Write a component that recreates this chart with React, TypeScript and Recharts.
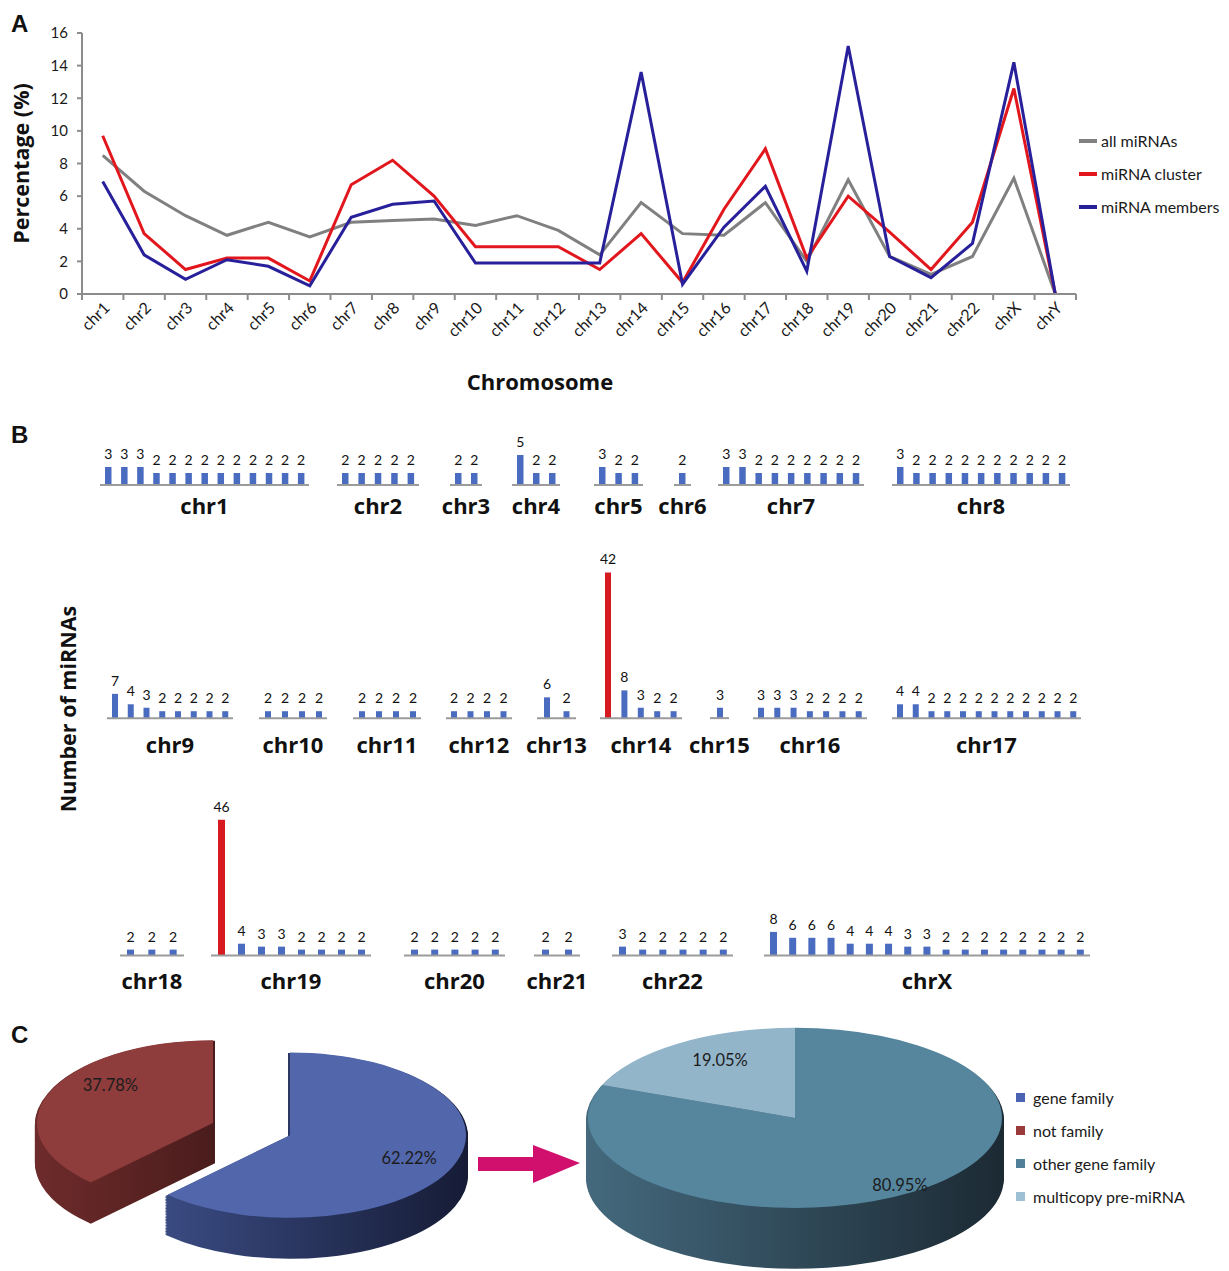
import React from 'react';
import {
  LineChart,
  Line,
  XAxis,
  YAxis,
  Label,
  BarChart,
  Bar,
  Cell,
  LabelList,
  PieChart,
  Pie,
} from 'recharts';

// ---------- panel A: share of miRNAs per chromosome (%)
const chromosomes = [
  'chr1', 'chr2', 'chr3', 'chr4', 'chr5', 'chr6', 'chr7', 'chr8', 'chr9', 'chr10', 'chr11', 'chr12',
  'chr13', 'chr14', 'chr15', 'chr16', 'chr17', 'chr18', 'chr19', 'chr20', 'chr21', 'chr22', 'chrX', 'chrY',
];
const allMiRNAs = [8.5, 6.3, 4.8, 3.6, 4.4, 3.5, 4.4, 4.5, 4.6, 4.2, 4.8, 3.9, 2.4, 5.6, 3.7, 3.6, 5.6, 2.0, 7.0, 2.3, 1.2, 2.3, 7.1, 0];
const miRNACluster = [9.7, 3.7, 1.5, 2.2, 2.2, 0.8, 6.7, 8.2, 6.0, 2.9, 2.9, 2.9, 1.5, 3.7, 0.7, 5.2, 8.9, 2.2, 6.0, 3.8, 1.5, 4.4, 12.6, 0];
const miRNAMembers = [6.9, 2.4, 0.9, 2.1, 1.7, 0.5, 4.7, 5.5, 5.7, 1.9, 1.9, 1.9, 1.9, 13.6, 0.6, 4.1, 6.6, 1.4, 15.2, 2.3, 1.0, 3.1, 14.2, 0];
const percentTicks = [0, 2, 4, 6, 8, 10, 12, 14, 16];

// ---------- panel B: miRNAs per cluster, by chromosome
const chr1Counts = [3, 3, 3, 2, 2, 2, 2, 2, 2, 2, 2, 2, 2];
const chr2Counts = [2, 2, 2, 2, 2];
const chr3Counts = [2, 2];
const chr4Counts = [5, 2, 2];
const chr5Counts = [3, 2, 2];
const chr6Counts = [2];
const chr7Counts = [3, 3, 2, 2, 2, 2, 2, 2, 2];
const chr8Counts = [3, 2, 2, 2, 2, 2, 2, 2, 2, 2, 2];
const chr9Counts = [7, 4, 3, 2, 2, 2, 2, 2];
const chr10Counts = [2, 2, 2, 2];
const chr11Counts = [2, 2, 2, 2];
const chr12Counts = [2, 2, 2, 2];
const chr13Counts = [6, 2];
const chr14Counts = [42, 8, 3, 2, 2];
const chr15Counts = [3];
const chr16Counts = [3, 3, 3, 2, 2, 2, 2];
const chr17Counts = [4, 4, 2, 2, 2, 2, 2, 2, 2, 2, 2, 2];
const chr18Counts = [2, 2, 2];
const chr19Counts = [46, 4, 3, 3, 2, 2, 2, 2];
const chr20Counts = [2, 2, 2, 2, 2];
const chr21Counts = [2, 2];
const chr22Counts = [3, 2, 2, 2, 2, 2];
const chrXCounts = [8, 6, 6, 6, 4, 4, 4, 3, 3, 2, 2, 2, 2, 2, 2, 2, 2];
const highlightedBars: [string, number][] = [['chr14', 0], ['chr19', 0]];

// ---------- panel C: family composition (%)
const familyLabels = ['gene family', 'not family'];
const familyPct = [62.22, 37.78];
const subLabels = ['other gene family', 'multicopy pre-miRNA'];
const subPct = [80.95, 19.05];

const SANS = 'Lato, "Open Sans", sans-serif';
const BOLD = '"Open Sans", "Noto Sans", sans-serif';
const AXIS_GRAY = '#8c8c8c';

const seriesKeys = ['all', 'cluster', 'members'];
const seriesNames = ['all miRNAs', 'miRNA cluster', 'miRNA members'];
const seriesColors = ['#808080', '#e2161d', '#28209b'];

const lineData = chromosomes.map((chr, i) => ({
  chr,
  all: allMiRNAs[i],
  cluster: miRNACluster[i],
  members: miRNAMembers[i],
}));

const PLOT_LEFT = 82;
const PLOT_RIGHT = 1076;
const AXIS_Y = 294;
const BAND = (PLOT_RIGHT - PLOT_LEFT) / chromosomes.length;

function ChrTick(props: any) {
  const { x, payload, index } = props;
  const tx = x + 8;
  const ty = AXIS_Y + 15;
  const last = index === chromosomes.length - 1;
  return (
    <g>
      <line x1={x - BAND / 2} x2={x - BAND / 2} y1={AXIS_Y} y2={AXIS_Y + 6} stroke={AXIS_GRAY} strokeWidth={2} />
      {last && <line x1={x + BAND / 2} x2={x + BAND / 2} y1={AXIS_Y} y2={AXIS_Y + 6} stroke={AXIS_GRAY} strokeWidth={2} />}
      <text x={tx} y={ty} textAnchor="end" transform={`rotate(-45, ${tx}, ${ty})`} fontSize={16} fontFamily={SANS} fill="#1a1a1a">
        {payload.value}
      </text>
    </g>
  );
}

const rowSpecs = [
  {
    baseline: 485, ppu: 6.0, max: 8, barSize: 6.5, labelOffset: 15,
    groups: [
      { name: 'chr1', counts: chr1Counts, x0: 100, x1: 309 },
      { name: 'chr2', counts: chr2Counts, x0: 337, x1: 419 },
      { name: 'chr3', counts: chr3Counts, x0: 450, x1: 482 },
      { name: 'chr4', counts: chr4Counts, x0: 512, x1: 560 },
      { name: 'chr5', counts: chr5Counts, x0: 594, x1: 643 },
      { name: 'chr6', counts: chr6Counts, x0: 674, x1: 691 },
      { name: 'chr7', counts: chr7Counts, x0: 718, x1: 864 },
      { name: 'chr8', counts: chr8Counts, x0: 892, x1: 1070 },
    ],
  },
  {
    baseline: 718, ppu: 3.47, max: 45, barSize: 6, labelOffset: 9,
    groups: [
      { name: 'chr9', counts: chr9Counts, x0: 107, x1: 233 },
      { name: 'chr10', counts: chr10Counts, x0: 259, x1: 327 },
      { name: 'chr11', counts: chr11Counts, x0: 353, x1: 421 },
      { name: 'chr12', counts: chr12Counts, x0: 446, x1: 512 },
      { name: 'chr13', counts: chr13Counts, x0: 537, x1: 576 },
      { name: 'chr14', counts: chr14Counts, x0: 600, x1: 682 },
      { name: 'chr15', counts: chr15Counts, x0: 710, x1: 729 },
      { name: 'chr16', counts: chr16Counts, x0: 753, x1: 867 },
      { name: 'chr17', counts: chr17Counts, x0: 892, x1: 1081 },
    ],
  },
  {
    baseline: 955, ppu: 2.95, max: 50, barSize: 7, labelOffset: 11,
    groups: [
      { name: 'chr18', counts: chr18Counts, x0: 120, x1: 184 },
      { name: 'chr19', counts: chr19Counts, x0: 211, x1: 371 },
      { name: 'chr20', counts: chr20Counts, x0: 404, x1: 505 },
      { name: 'chr21', counts: chr21Counts, x0: 534, x1: 580 },
      { name: 'chr22', counts: chr22Counts, x0: 612, x1: 733 },
      { name: 'chrX', counts: chrXCounts, x0: 764, x1: 1090 },
    ],
  },
];

function ChrBars({ name, counts, x0, x1, row }: any) {
  const pad = 40;
  const topPad = 28;
  const axisH = 44;
  const plotH = row.max * row.ppu;
  const data = counts.map((v: number, i: number) => ({ i, v }));
  const hi = highlightedBars.filter(([n]) => n === name).map(([, i]) => i);
  return (
    <div style={{ position: 'absolute', left: x0 - pad, top: row.baseline - plotH - topPad }}>
      <BarChart
        width={x1 - x0 + 2 * pad}
        height={topPad + plotH + axisH}
        data={data}
        margin={{ top: topPad, right: pad, bottom: 0, left: pad }}
        barCategoryGap={0}
      >
        <XAxis dataKey="i" height={axisH} tick={false} tickLine={false} axisLine={{ stroke: '#9b9b9b', strokeWidth: 2 }}>
          <Label
            value={name}
            position="insideBottom"
            offset={row.labelOffset}
            style={{ fontFamily: BOLD, fontWeight: 700, fontSize: 22, fill: '#111' }}
          />
        </XAxis>
        <YAxis hide domain={[0, row.max]} />
        <Bar dataKey="v" barSize={row.barSize} isAnimationActive={false}>
          {data.map((_: any, i: number) => (
            <Cell key={i} fill={hi.includes(i) ? '#d71920' : '#4a6cc0'} />
          ))}
          <LabelList dataKey="v" position="top" offset={8} fill="#111" fontSize={14} fontFamily={SANS} />
        </Bar>
      </BarChart>
    </div>
  );
}

const LAYERS = 26;

function Pie3D({ left, top, width, height, s, r, depth, data, tops, parts, gradients, labelAdj }: any) {
  const pies: React.ReactNode[] = [];
  parts.forEach((part: any, p: number) => {
    for (let k = LAYERS; k >= 1; k--) {
      const off = (depth * k) / LAYERS;
      pies.push(
        <Pie
          key={`side-${p}-${k}`}
          data={data}
          dataKey="value"
          cx={part.cx}
          cy={part.cy + off}
          outerRadius={r}
          startAngle={90}
          endAngle={-270}
          isAnimationActive={false}
          label={false}
          labelLine={false}
        >
          {data.map((_: any, i: number) => {
            const on = part.show.includes(i);
            const paint = on ? `url(#${part.side})` : 'none';
            return <Cell key={i} fill={paint} stroke={paint} strokeWidth={4} />;
          })}
        </Pie>
      );
    }
    const renderLabel = (props: any) => {
      const { index, midAngle } = props;
      if (!part.show.includes(index)) return null;
      const adj = labelAdj[index];
      const a = ((midAngle + adj.shift) * Math.PI) / 180;
      const rr = r * adj.frac;
      const x = part.cx + rr * Math.cos(a);
      const y = part.cy - rr * Math.sin(a);
      return (
        <text
          key={`lbl-${index}`}
          transform={`translate(${x},${y}) scale(1,${1 / s})`}
          textAnchor="middle"
          dominantBaseline="central"
          fontSize={16.5}
          fontFamily={SANS}
          fill="#1c1c1c"
        >
          {`${data[index].value.toFixed(2)}%`}
        </text>
      );
    };
    pies.push(
      <Pie
        key={`top-${p}`}
        data={data}
        dataKey="value"
        cx={part.cx}
        cy={part.cy}
        outerRadius={r}
        startAngle={90}
        endAngle={-270}
        isAnimationActive={false}
        label={renderLabel}
        labelLine={false}
      >
        {data.map((_: any, i: number) => (
          <Cell key={i} fill={part.show.includes(i) ? tops[i] : 'none'} stroke="none" />
        ))}
      </Pie>
    );
  });
  return (
    <div style={{ position: 'absolute', left, top, width, height: height * s }}>
      <div style={{ transform: `scaleY(${s})`, transformOrigin: '0 0' }}>
        <PieChart width={width} height={height} margin={{ top: 0, right: 0, bottom: 0, left: 0 }}>
          <defs>{gradients}</defs>
          {pies}
        </PieChart>
      </div>
    </div>
  );
}

const familyData = familyLabels.map((name, i) => ({ name, value: familyPct[i] }));
const subData = subLabels.map((name, i) => ({ name, value: subPct[i] }));
const legendC = [
  { label: familyLabels[0], color: '#4a63b3' },
  { label: familyLabels[1], color: '#9b3a3a' },
  { label: subLabels[0], color: '#4f7f99' },
  { label: subLabels[1], color: '#9ec0d5' },
];

const panelLetter = (ch: string, top: number) => (
  <div
    style={{
      position: 'absolute', left: 11, top, fontFamily: '"Liberation Sans", Arial, sans-serif',
      fontWeight: 700, fontSize: 24, lineHeight: '24px', color: '#111',
    }}
  >
    {ch}
  </div>
);

export default function App() {
  return (
    <div style={{ position: 'absolute', left: 0, top: 0, width: 1229, height: 1271, background: '#fff', overflow: 'hidden', fontFamily: SANS }}>
      {panelLetter('A', 12)}
      {panelLetter('B', 423)}
      {panelLetter('C', 1023)}

      {/* panel A */}
      <div style={{ position: 'absolute', left: 0, top: 0 }}>
        <LineChart width={1229} height={400} data={lineData} margin={{ top: 33, right: 1229 - PLOT_RIGHT, bottom: 0, left: 0 }}>
          <XAxis
            dataKey="chr"
            interval={0}
            height={400 - AXIS_Y}
            padding={{ left: BAND / 2, right: BAND / 2 }}
            tickLine={false}
            axisLine={{ stroke: AXIS_GRAY, strokeWidth: 2 }}
            tick={<ChrTick />}
          >
            <Label
              value="Chromosome"
              position="insideBottom"
              offset={10}
              dx={-39}
              style={{ fontFamily: BOLD, fontWeight: 700, fontSize: 22, fill: '#111' }}
            />
          </XAxis>
          <YAxis
            width={PLOT_LEFT}
            domain={[0, 16]}
            ticks={percentTicks}
            interval={0}
            tickSize={5}
            tickMargin={9}
            axisLine={{ stroke: AXIS_GRAY, strokeWidth: 2 }}
            tickLine={{ stroke: AXIS_GRAY, strokeWidth: 2 }}
            tick={{ fontSize: 15, fill: '#1a1a1a', fontFamily: SANS }}
          >
            <Label
              value="Percentage (%)"
              angle={-90}
              position="insideLeft"
              offset={21}
              style={{ textAnchor: 'middle', fontFamily: BOLD, fontWeight: 700, fontSize: 21.5, fill: '#111' }}
            />
          </YAxis>
          {seriesKeys.map((k, i) => (
            <Line
              key={k}
              dataKey={k}
              name={seriesNames[i]}
              stroke={seriesColors[i]}
              strokeWidth={3}
              dot={false}
              isAnimationActive={false}
            />
          ))}
        </LineChart>
      </div>
      <div style={{ position: 'absolute', left: 1079, top: 124 }}>
        {seriesNames.map((n, i) => (
          <div key={n} style={{ display: 'flex', alignItems: 'center', height: 33 }}>
            <span style={{ width: 18, height: 4, background: seriesColors[i], marginRight: 4 }} />
            <span style={{ fontSize: 16, color: '#1a1a1a', whiteSpace: 'nowrap' }}>{n}</span>
          </div>
        ))}
      </div>

      {/* panel B */}
      <div
        style={{
          position: 'absolute', left: 68 - 150, top: 709 - 15, width: 300, height: 30, lineHeight: '30px',
          textAlign: 'center', transform: 'rotate(-90deg)', fontFamily: BOLD, fontWeight: 700, fontSize: 21.5, color: '#111',
        }}
      >
        Number of miRNAs
      </div>
      {rowSpecs.map((row, ri) =>
        row.groups.map((g) => <ChrBars key={`${ri}-${g.name}`} {...g} row={row} />)
      )}

      {/* panel C */}
      <Pie3D
        left={0}
        top={1020}
        width={480}
        height={520}
        s={0.47}
        r={176}
        depth={85}
        data={familyData}
        tops={['#5166ab', '#8e3c3c']}
        labelAdj={[{ shift: 0, frac: 0.73 }, { shift: -16, frac: 0.74 }]}
        parts={[
          { cx: 213, cy: 219, show: [1], side: 'redSide' },
          { cx: 290, cy: 245, show: [0], side: 'blueSide' },
        ]}
        gradients={[
          <linearGradient key="b" id="blueSide" gradientUnits="userSpaceOnUse" x1={114} y1={0} x2={466} y2={0}>
            <stop offset="0" stopColor="#40538f" />
            <stop offset="1" stopColor="#161c36" />
          </linearGradient>,
          <linearGradient key="r" id="redSide" gradientUnits="userSpaceOnUse" x1={37} y1={0} x2={215} y2={0}>
            <stop offset="0" stopColor="#6e2b2b" />
            <stop offset="1" stopColor="#4a1c1c" />
          </linearGradient>,
        ]}
      />
      <svg style={{ position: 'absolute', left: 470, top: 1135 }} width={120} height={60}>
        <polygon points="8,22 63,22 63,10 110,28 63,48 63,36 8,36" fill="#d1106e" />
      </svg>
      <Pie3D
        left={580}
        top={1020}
        width={440}
        height={575}
        s={0.435}
        r={207}
        depth={138}
        data={subData}
        tops={['#55869e', '#93b5ca']}
        labelAdj={[{ shift: 0, frac: 0.9 }, { shift: -5, frac: 0.74 }]}
        parts={[{ cx: 215, cy: 225, show: [0, 1], side: 'tealSide' }]}
        gradients={[
          <linearGradient key="t" id="tealSide" gradientUnits="userSpaceOnUse" x1={8} y1={0} x2={422} y2={0}>
            <stop offset="0" stopColor="#44697d" />
            <stop offset="1" stopColor="#1c2a34" />
          </linearGradient>,
        ]}
      />
      <div style={{ position: 'absolute', left: 1016, top: 1081 }}>
        {legendC.map((it) => (
          <div key={it.label} style={{ display: 'flex', alignItems: 'center', height: 33 }}>
            <span style={{ width: 9, height: 9, background: it.color, marginRight: 8 }} />
            <span style={{ fontSize: 16, color: '#1a1a1a', whiteSpace: 'nowrap' }}>{it.label}</span>
          </div>
        ))}
      </div>
    </div>
  );
}
